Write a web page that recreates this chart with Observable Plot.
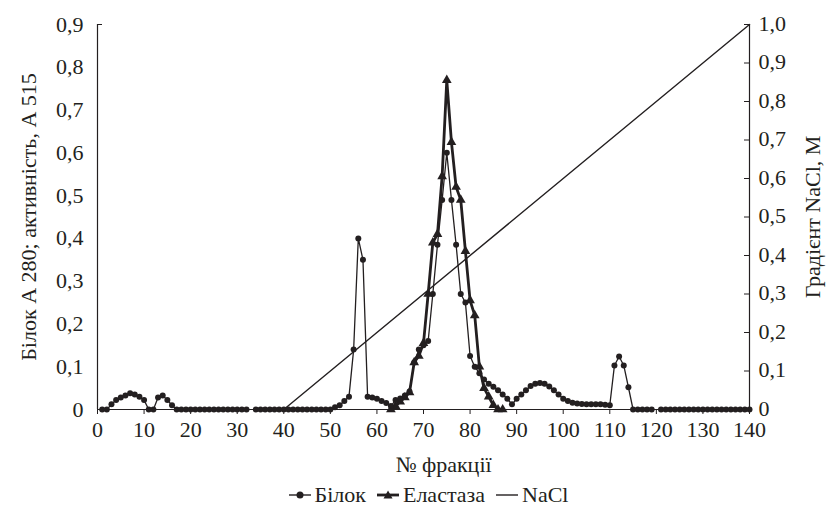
<!DOCTYPE html>
<html>
<head>
<meta charset="utf-8">
<script src="https://cdn.jsdelivr.net/npm/d3@7"></script>
<script src="https://cdn.jsdelivr.net/npm/@observablehq/plot@0.6"></script>
<style>
  html, body { margin: 0; padding: 0; background: #fff; }
  body { width: 836px; height: 512px; overflow: hidden; color: #231f20; }
  #legend { position: relative; height: 34px; display: flex; justify-content: center; align-items: center; gap: 10px; font-family: "Liberation Serif", "DejaVu Serif", serif; font-size: 22px; padding-left: 20px; }
  #legend .item { display: flex; align-items: center; gap: 3px; }
  #legend span { font-family: "Liberation Serif", "DejaVu Serif", serif; }
</style>
</head>
<body>
<div id="chart"></div>
<div id="legend"></div>
<script>
// ---- data ----
const fractions = d3.range(1, 141);
const bilok = [
  0, 0, 0.012, 0.022, 0.028, 0.033, 0.038, 0.035, 0.03, 0.022,
  0, 0, 0.028, 0.033, 0.022, 0.01, 0, 0, 0, 0,
  0, 0, 0, 0, 0, 0, 0, 0, 0, 0,
  0, 0, null, 0, 0, 0, 0, 0, 0, 0,
  0, 0, 0, 0, 0, 0, 0, 0, 0, 0,
  0.005, 0.01, 0.02, 0.03, 0.14, 0.40, 0.35, 0.03, 0.028, 0.025,
  0.02, 0.015, 0.008, 0.022, 0.026, 0.033, 0.042, 0.11, 0.14, 0.15,
  0.16, 0.27, 0.385, 0.49, 0.60, 0.49, 0.385, 0.27, 0.25, 0.125,
  0.10, 0.085, 0.07, 0.06, 0.053, 0.045, 0.035, 0.025, 0.012, 0.025,
  0.035, 0.045, 0.055, 0.06, 0.062, 0.06, 0.054, 0.045, 0.035, 0.025,
  0.02, 0.016, 0.014, 0.013, 0.012, 0.012, 0.012, 0.012, 0.011, 0.01,
  0.103, 0.124, 0.103, 0.052, 0, 0, 0, 0, 0, null,
  0, 0, 0, 0, 0, 0, 0, 0, 0, 0,
  0, 0, 0, 0, 0, 0, 0, 0, 0, 0
];
const elastaseFractions = d3.range(63, 88);
const elastase = [
  0, 0.008, 0.018, 0.028, 0.04, 0.11, 0.125, 0.155, 0.27, 0.39,
  0.41, 0.545, 0.77, 0.625, 0.52, 0.49, 0.37, 0.255, 0.22, 0.1,
  0.05, 0.03, 0.01, 0, 0
];
const naclFractions = [40, 140];
const nacl = [0, 1.0];

const xTicks = d3.range(0, 141, 10);
const leftTicks = [0, 0.1, 0.2, 0.3, 0.4, 0.5, 0.6, 0.7, 0.8, 0.9];
const rightTicks = [0, 0.1, 0.2, 0.3, 0.4, 0.5, 0.6, 0.7, 0.8, 0.9, 1.0];

const leftTitle = "Білок А 280; активність, А 515";
const rightTitle = "Градієнт NaCl, М";
const xTitle = "№ фракції";
const seriesNames = ["Білок", "Еластаза", "NaCl"];

// ---- derived tables ----
const yMax = 0.9, rightMax = 1.0;
const k = yMax / rightMax;
const bilokData = fractions.map((f, i) => ({f, v: bilok[i]}));
const elData = elastaseFractions.map((f, i) => ({f, v: elastase[i]}));
const naclData = naclFractions.map((f, i) => ({f, v: nacl[i] * k}));
const fmt = d => Math.abs(d) < 1e-9 ? "0" : d.toFixed(1).replace(".", ",");
const ink = "#231f20";

const chart = Plot.plot({
  width: 836,
  height: 478,
  marginLeft: 97,
  marginRight: 87,
  marginTop: 24,
  marginBottom: 69,
  style: {fontFamily: "Liberation Serif, serif", fontSize: "22px", color: ink, background: "#fff"},
  x: {domain: [0, 140]},
  y: {domain: [0, yMax]},
  marks: [
    Plot.axisX({ticks: xTicks, tickFormat: d => String(d), tickSize: 5, tickPadding: 7, label: null, fontSize: 22}),
    Plot.axisY({anchor: "left", ticks: leftTicks, tickFormat: fmt, tickSize: 0, tickPadding: 14, label: null, fontSize: 22}),
    Plot.axisY({anchor: "right", ticks: rightTicks.map(t => t * k), tickFormat: d => fmt(d / k), tickSize: 0, tickPadding: 9, label: null, fontSize: 22, dy: -1}),
    Plot.ruleY(rightTicks.map(t => t * k), {insetLeft: 647, stroke: ink, strokeWidth: 1}),
    Plot.ruleY([yMax], {insetRight: 647, stroke: ink, strokeWidth: 1}),
    Plot.ruleX([0, 140], {stroke: ink, strokeWidth: 1.2}),
    Plot.ruleY([0], {stroke: ink, strokeWidth: 1.2}),
    // NaCl
    Plot.line(naclData, {x: "f", y: "v", stroke: ink, strokeWidth: 1.4}),
    // Elastase
    Plot.line(elData, {x: "f", y: "v", stroke: ink, strokeWidth: 2.8}),
    Plot.dot(elData, {x: "f", y: "v", symbol: "triangle", r: 3.6, fill: ink, stroke: null}),
    // Bilok
    Plot.line(bilokData, {x: "f", y: "v", stroke: ink, strokeWidth: 1.3}),
    Plot.dot(bilokData.filter(d => d.v != null), {x: "f", y: "v", r: 3, fill: ink, stroke: null}),
    // titles
    Plot.text([leftTitle], {frameAnchor: "left", textAnchor: "middle", lineAnchor: "middle", rotate: -90, dx: -69, fontSize: 22, fill: ink}),
    Plot.text([rightTitle], {frameAnchor: "right", textAnchor: "middle", lineAnchor: "middle", rotate: -90, dx: 63, fontSize: 22, fill: ink}),
    Plot.text([xTitle], {frameAnchor: "bottom", textAnchor: "middle", lineAnchor: "middle", dy: 55, dx: 20, fontSize: 22, fill: ink})
  ]
});
document.getElementById("chart").appendChild(chart);

// ---- legend ----
const legend = d3.select("#legend");
const swatch = (kind) => {
  const s = d3.create("svg").attr("width", 24).attr("height", 14);
  const sw = kind === "el" ? 2.8 : 1.4;
  s.append("line").attr("x1", 1).attr("x2", 23).attr("y1", 7).attr("y2", 7).attr("stroke", ink).attr("stroke-width", sw);
  if (kind === "bilok") s.append("circle").attr("cx", 12).attr("cy", 7).attr("r", 3.5).attr("fill", ink);
  if (kind === "el") s.append("path").attr("d", "M12,2.5L16.5,10.5L7.5,10.5Z").attr("fill", ink);
  return s.node();
};
["bilok", "el", "nacl"].forEach((kind, i) => {
  const it = legend.append("div").attr("class", "item");
  it.node().appendChild(swatch(kind));
  it.append("span").text(seriesNames[i]);
});
</script>
</body>
</html>
